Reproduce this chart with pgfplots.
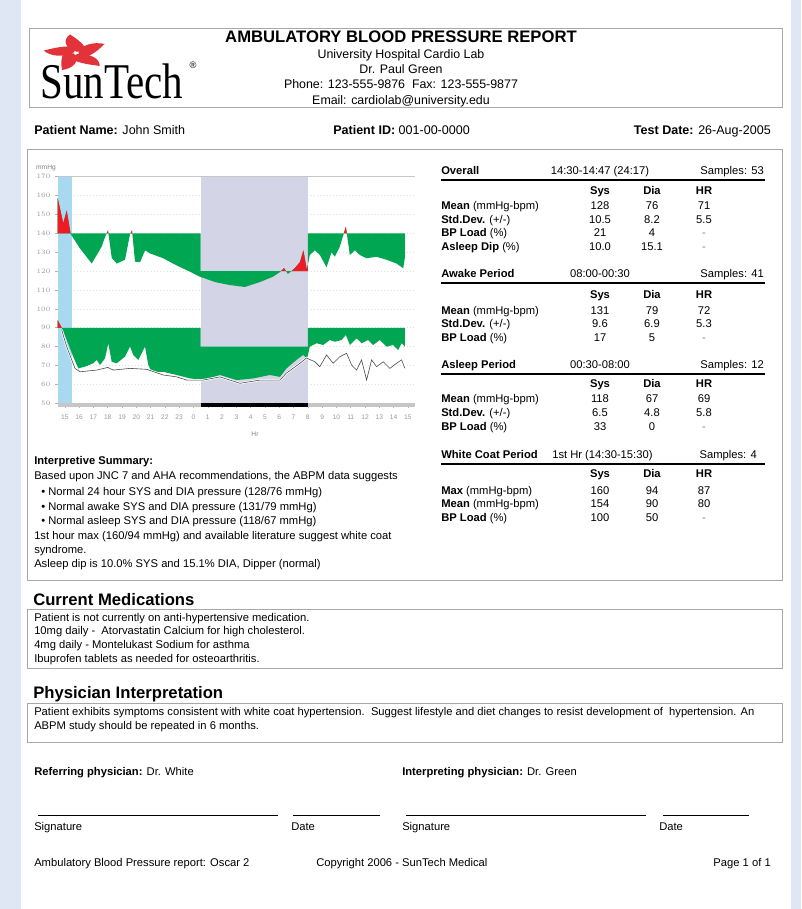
\documentclass[border=0pt]{standalone}
\usepackage{pgfplots}
\pgfplotsset{compat=1.18}
\usepackage{fontspec}
\setmainfont{Liberation Sans}
\newfontfamily\logofont{Liberation Serif}
\usepackage{graphicx}
\definecolor{sunred}{HTML}{E2333B}
\definecolor{bpgreen}{HTML}{00A651}
\definecolor{bpred}{HTML}{ED1C24}
\definecolor{wcblue}{HTML}{A9D9F1}
\definecolor{sleepgray}{HTML}{D3D4E6}
\definecolor{pagebg}{HTML}{DFE7F4}
\definecolor{boxgray}{HTML}{A8A8A8}
\newcommand{\bsz}{\fontsize{8.4}{10}\selectfont}
\newcommand{\psz}{\fontsize{9.3}{11}\selectfont}
\newcommand{\nsz}{\fontsize{9.4}{11}\selectfont}
\newcommand{\hsz}{\fontsize{12.5}{14}\selectfont}
\begin{document}
\begin{tikzpicture}
\begin{scope}[x=0.75pt,y=-0.75pt,
  t/.style={anchor=west,inner sep=0pt,text height=1.5ex,text depth=.3ex,font=\bsz},
  tc/.style={t,anchor=center},
  te/.style={t,anchor=east}]
\useasboundingbox (0,0) rectangle (801,909);
\fill[pagebg] (0,0) rectangle (801,909);
\fill[white] (21,0) rectangle (791,909);
% header box
\draw[boxgray,line width=0.6pt] (29,28) rectangle (782,107);
% logo
\begin{scope}[shift={(76,53)},yscale=0.58]
\foreach \a in {18,90,162,234,306}
  \fill[sunred,rotate=\a] (2,1) .. controls (8,-11) and (22,-14) .. (32,-6) .. controls (26,-1) and (17,8) .. (5,10) -- cycle;
\end{scope}
\node[anchor=base west,inner sep=0pt] at (40,98.5) {\scalebox{0.82}[1]{\logofont\fontsize{37.5}{38}\selectfont SunTech}};
\node[inner sep=0pt,font=\fontsize{7}{8}\selectfont] at (193,65) {®};
\node[tc,font=\bfseries\hsz] at (401,38) {AMBULATORY BLOOD PRESSURE REPORT};
\node[tc,font=\psz] at (401,54) {University Hospital Cardio Lab};
\node[tc,font=\psz] at (401,69) {Dr. Paul Green};
\node[tc,font=\psz] at (401,84) {Phone: 123-555-9876\ \ Fax: 123-555-9877};
\node[tc,font=\psz] at (401,100) {Email: cardiolab@university.edu};
% patient row
\node[t,font=\nsz] at (34,130) {\textbf{Patient Name:} John Smith};
\node[t,font=\nsz] at (333,130) {\textbf{Patient ID:} 001-00-0000};
\node[te,font=\nsz] at (771,130) {\textbf{Test Date:} 26-Aug-2005};
% main box
\draw[boxgray,line width=0.6pt] (27,149) rectangle (782,580);
% chart captions
\node[tc,font=\fontsize{5}{6}\selectfont,text=gray] at (46,165) {mmHg};
\node[tc,font=\fontsize{5}{6}\selectfont,text=gray] at (255,432) {Hr};
% ---- tables
\foreach \yy/\ttl/\per/\smp in {170/Overall/14:30-14:47 (24:17)/53, 273/Awake Period/08:00-00:30/41, 364/Asleep Period/00:30-08:00/12}{
  \node[t,font=\bsz\bfseries] at (441,\yy) {\ttl};
  \node[tc] at (600,\yy) {\per};
  \node[te] at (764,\yy) {Samples: \smp};
}
\node[t,font=\bsz\bfseries] at (441,454) {White Coat Period};
\node[t] at (552,454) {1st Hr (14:30-15:30)};
\node[te] at (757,454) {Samples: 4};
\foreach \yy in {180,283,374,464} \draw[black,line width=0.9pt] (441,\yy) -- (765,\yy);
\foreach \yy in {190,294,383,473}{
  \node[tc,font=\bsz\bfseries] at (600,\yy) {Sys};
  \node[tc,font=\bsz\bfseries] at (652,\yy) {Dia};
  \node[tc,font=\bsz\bfseries] at (704,\yy) {HR};
}
\newcommand{\trow}[5]{\node[t] at (441,#1) {#2};\node[tc] at (600,#1) {#3};\node[tc] at (652,#1) {#4};\node[tc] at (704,#1) {#5};}
\trow{205}{\textbf{Mean} (mmHg-bpm)}{128}{76}{71}
\trow{219}{\textbf{Std.Dev.} (+/-)}{10.5}{8.2}{5.5}
\trow{232}{\textbf{BP Load} (\%)}{21}{4}{\textcolor{gray}{-}}
\trow{246}{\textbf{Asleep Dip} (\%)}{10.0}{15.1}{\textcolor{gray}{-}}
\trow{310}{\textbf{Mean} (mmHg-bpm)}{131}{79}{72}
\trow{323}{\textbf{Std.Dev.} (+/-)}{9.6}{6.9}{5.3}
\trow{337}{\textbf{BP Load} (\%)}{17}{5}{\textcolor{gray}{-}}
\trow{398}{\textbf{Mean} (mmHg-bpm)}{118}{67}{69}
\trow{412}{\textbf{Std.Dev.} (+/-)}{6.5}{4.8}{5.8}
\trow{426}{\textbf{BP Load} (\%)}{33}{0}{\textcolor{gray}{-}}
\trow{490}{\textbf{Max} (mmHg-bpm)}{160}{94}{87}
\trow{503}{\textbf{Mean} (mmHg-bpm)}{154}{90}{80}
\trow{517}{\textbf{BP Load} (\%)}{100}{50}{\textcolor{gray}{-}}
% ---- summary
\node[t,font=\bsz\bfseries] at (34,460) {Interpretive Summary:};
\node[t] at (34,475) {Based upon JNC 7 and AHA recommendations, the ABPM data suggests};
\node[t] at (41,491) {\textbullet\ Normal 24 hour SYS and DIA pressure (128/76 mmHg)};
\node[t] at (41,506) {\textbullet\ Normal awake SYS and DIA pressure (131/79 mmHg)};
\node[t] at (41,520) {\textbullet\ Normal asleep SYS and DIA pressure (118/67 mmHg)};
\node[t] at (34,535) {1st hour max (160/94 mmHg) and available literature suggest white coat};
\node[t] at (34,549) {syndrome.};
\node[t] at (34,563) {Asleep dip is 10.0\% SYS and 15.1\% DIA, Dipper (normal)};
% ---- medications
\node[t,font=\hsz\bfseries] at (33,601) {Current Medications};
\draw[boxgray,line width=0.6pt] (27,609) rectangle (782,668);
\node[t] at (34,617) {Patient is not currently on anti-hypertensive medication.};
\node[t] at (34,630) {10mg daily -\ \ Atorvastatin Calcium for high cholesterol.};
\node[t] at (34,644) {4mg daily - Montelukast Sodium for asthma};
\node[t] at (34,658) {Ibuprofen tablets as needed for osteoarthritis.};
% ---- interpretation
\node[t,font=\hsz\bfseries] at (33,694) {Physician Interpretation};
\draw[boxgray,line width=0.6pt] (27,703) rectangle (782,742);
\node[t] at (34,711) {Patient exhibits symptoms consistent with white coat hypertension.\ \ Suggest lifestyle and diet changes to resist development of\ \ hypertension. An};
\node[t] at (34,725) {ABPM study should be repeated in 6 months.};
% ---- signatures
\node[t] at (34,771) {\textbf{Referring physician:} Dr. White};
\node[t] at (402,771) {\textbf{Interpreting physician:} Dr. Green};
\draw[black,line width=0.6pt] (38,815) -- (278,815) (293,815) -- (380,815) (406,815) -- (646,815) (663,815) -- (749,815);
\node[t] at (34,826) {Signature};
\node[t] at (291,826) {Date};
\node[t] at (402,826) {Signature};
\node[t] at (659,826) {Date};
\node[t] at (34,862) {Ambulatory Blood Pressure report: Oscar 2};
\node[t] at (316,862) {Copyright 2006 - SunTech Medical};
\node[te] at (771,862) {Page 1 of 1};
\end{scope}
% ================= chart
\begin{axis}[
  at={(43.275pt,-303.9pt)}, anchor=south west,
  scale only axis, width=268pt, height=171.4pt,
  xmin=14.5, xmax=39.5, ymin=49, ymax=170,
  axis line style={draw=none},
  xtick={15,...,39},
  xticklabels={15,16,17,18,19,20,21,22,23,0,1,2,3,4,5,6,7,8,9,10,11,12,13,14,15},
  ytick={50,60,...,170},
  tick style={gray!60, thin},
  major tick length=2pt,
  tick align=outside,
  xtick pos=bottom, ytick pos=left,
  ticklabel style={font=\fontsize{5}{6}\selectfont, text=gray!80},
  xticklabel style={yshift=-2pt},
  ymajorgrids, grid style={gray!25, dotted},
  clip=false,
]
% white coat hour and sleep period
\addplot[fill=wcblue, draw=none] coordinates {(14.5,49) (15.5,49) (15.5,170) (14.5,170)};
\addplot[fill=sleepgray, draw=none] coordinates {(24.5,49) (32,49) (32,170) (24.5,170)};
\draw[gray!45, line width=1.2pt] (rel axis cs:0,1) -- (rel axis cs:1,1);
% systolic vs threshold (140 awake / 120 asleep)
\addplot[fill=bpgreen, draw=none] coordinates {
(14.5,158.6) (14.89,145.3) (15.13,152) (15.41,139.6) (16.06,132) (16.88,124) (17.23,128.5) (17.58,133) (17.81,138) (18.02,141.5) (18.28,127) (18.63,124) (19.21,126) (19.56,139.6) (19.70,141.5) (19.91,125) (20.26,124.7) (20.61,131) (20.95,129.4) (21.88,126.8) (22.82,123) (23.75,119.7) (24.45,117) (24.73,116.3) (25.51,114.2) (26.55,112.6) (27.60,111.6) (28.65,114.2) (29.56,117) (30.05,119.5) (30.33,121.6) (30.61,118.5) (31.10,121.6) (31.45,124.8) (31.69,131) (31.93,120.6) (32.14,128.5) (32.49,131) (32.84,128.6) (33.31,122) (33.66,130) (33.89,127.6) (34.24,133) (34.66,143.5) (34.94,128.5) (35.29,131) (35.64,128.5) (36.11,126.8) (36.81,127.6) (37.51,126) (38.21,124) (38.67,121.5) (38.79,127)
(38.79,140) (32,140) (32,120) (24.5,120) (24.5,140) (14.5,140)};
\addplot[fill=bpred, draw=none] coordinates {(14.5,140) (14.5,158.6) (14.89,145.3) (15.13,152) (15.40,140)};
\addplot[fill=bpred, draw=none] coordinates {(17.93,140) (18.02,141.5) (18.05,140)};
\addplot[fill=bpred, draw=none] coordinates {(19.59,140) (19.70,141.5) (19.72,140)};
\addplot[fill=bpred, draw=none] coordinates {(30.12,120) (30.33,121.6) (30.48,120)};
\addplot[fill=bpred, draw=none] coordinates {(30.85,120) (31.10,121.6) (31.45,124.8) (31.69,131) (31.93,120.6) (32,123.2) (32,120)};
\addplot[fill=bpred, draw=none] coordinates {(34.52,140) (34.66,143.5) (34.73,140)};
% diastolic vs threshold (90 awake / 80 asleep)
\addplot[fill=bpgreen, draw=none] coordinates {
(14.5,94) (14.85,89) (15.59,74.7) (15.94,68.5) (16.41,69.4) (16.99,71.2) (17.23,73) (17.46,70.3) (17.81,73.8) (18.04,81.8) (18.28,72) (18.63,71.2) (19.21,74.7) (19.56,80) (19.79,75.6) (20.14,72.9) (20.61,80) (20.84,70.3) (21.07,66.7) (21.88,66.7) (22.82,65) (23.75,63.2) (24.68,62.3) (25.85,65) (27.02,62.3) (28.18,63.2) (29.35,65) (30.05,64) (30.51,68.5) (31.21,73) (31.67,75.6) (31.95,73.8) (32.14,80) (32.61,81.8) (33.07,80.9) (33.54,83.5) (33.89,82.6) (34.36,83.5) (34.66,86.2) (34.94,80.9) (35.41,84.4) (35.76,81.8) (36.22,83.5) (36.57,80.9) (37.04,83.5) (37.51,80) (37.97,80.9) (38.32,78.2) (38.56,81.8) (38.79,80)
(38.79,90) (32,90) (32,80) (24.5,80) (24.5,90) (14.5,90)};
\addplot[fill=bpred, draw=none] coordinates {(14.5,90) (14.5,94) (14.78,90)};
% heart rate
\addplot[white, line width=1.6pt] coordinates {
(14.78,88.8) (15.13,80) (15.71,68.5) (16.06,66.7) (17.23,67.6) (18.0,69) (18.39,67.6) (19.56,68.5) (20.72,68) (21.88,65) (22.82,64) (23.52,62.3) (24.68,62.3) (25.85,64) (27.25,60.6) (28.65,62.3) (30.05,62.3) (30.5,66) (31.45,71.2) (31.9,74) (32.49,72) (32.84,69.4) (33.31,75.6) (33.77,71.2) (34.24,74.7) (34.71,76.5) (35.06,70.3) (35.41,67.6) (35.76,73) (36.11,62.3) (36.46,73) (36.81,69.4) (37.28,72) (37.74,68.5) (38.21,71.2) (38.56,73) (38.79,68.5)};
\addplot[black!70, line width=0.45pt] coordinates {
(14.78,88.8) (15.13,80) (15.71,68.5) (16.06,66.7) (17.23,67.6) (18.0,69) (18.39,67.6) (19.56,68.5) (20.72,68) (21.88,65) (22.82,64) (23.52,62.3) (24.68,62.3) (25.85,64) (27.25,60.6) (28.65,62.3) (30.05,62.3) (30.5,66) (31.45,71.2) (31.9,74) (32.49,72) (32.84,69.4) (33.31,75.6) (33.77,71.2) (34.24,74.7) (34.71,76.5) (35.06,70.3) (35.41,67.6) (35.76,73) (36.11,62.3) (36.46,73) (36.81,69.4) (37.28,72) (37.74,68.5) (38.21,71.2) (38.56,73) (38.79,68.5)};
% time axis bars
\addplot[gray!45, line width=3pt] coordinates {(14.5,49) (39.5,49)};
\addplot[black, line width=3pt] coordinates {(24.5,49) (32,49)};
\end{axis}
\end{tikzpicture}
\end{document}
